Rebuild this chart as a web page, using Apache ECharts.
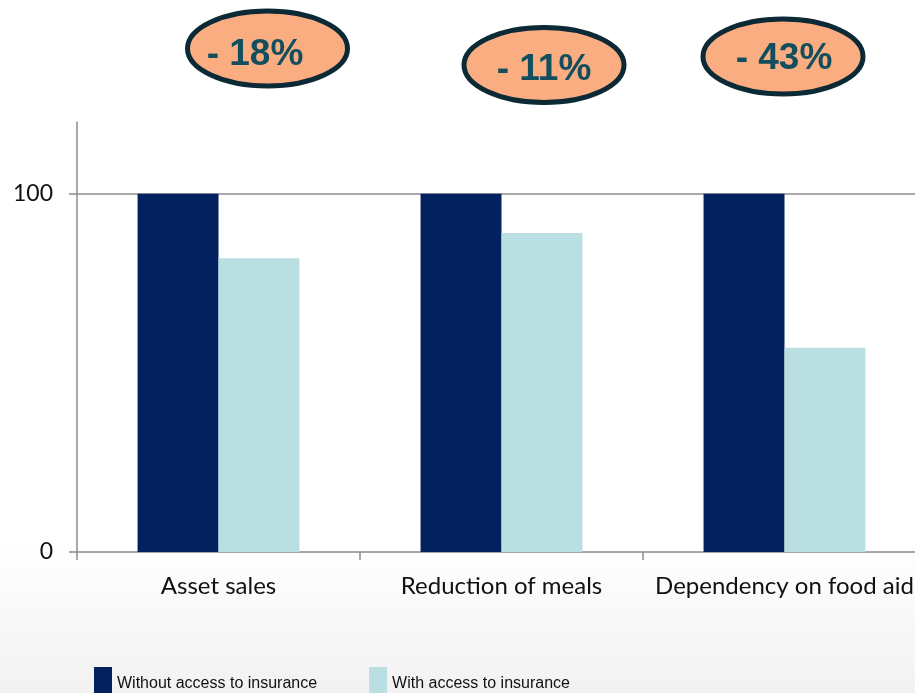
<!DOCTYPE html>
<html><head><meta charset="utf-8">
<script src="https://cdn.jsdelivr.net/npm/echarts@6/dist/echarts.min.js"></script>
<style>html,body{margin:0;padding:0;background:#fff}#c{width:915px;height:693px}</style>
</head><body><div id="c"></div>
<script>
const categories = ['Asset sales', 'Reduction of meals', 'Dependency on food aid'];
const withoutInsurance = [100, 100, 100];
const withInsurance = [82, 89, 57];
const reductionLabels = ['- 18%', '- 11%', '- 43%'];
const yTicks = [0, 100];
const seriesNames = ['Without access to insurance', 'With access to insurance'];

const chart = echarts.init(document.getElementById('c'), null, {renderer: 'canvas'});
const ellipsePos = [[267.5, 48.5], [544, 65], [783, 56.5]];
const textPos = [[255, 55], [544, 70], [784, 59]];
const graphics = [{
  type: 'rect', z: -10, silent: true,
  shape: {x: 0, y: 0, width: 915, height: 693},
  style: {fill: new echarts.graphic.LinearGradient(0, 0, 0, 1, [
    {offset: 0, color: '#ffffff'}, {offset: 0.78, color: '#ffffff'}, {offset: 1, color: '#f2f2f2'}])}
}];
reductionLabels.forEach((t, i) => {
  graphics.push({
    type: 'ellipse', z: 100,
    shape: {cx: ellipsePos[i][0], cy: ellipsePos[i][1], rx: 80, ry: 37.5},
    style: {fill: '#FBAD82', stroke: '#0b2a35', lineWidth: 5}
  });
  graphics.push({
    type: 'text', z: 101,
    x: textPos[i][0], y: textPos[i][1],
    style: {text: t, fill: '#134e5e', font: 'bold 37px "Liberation Sans", Arial, sans-serif',
      align: 'center', verticalAlign: 'middle'}
  });
});

chart.setOption({
  animation: false,
  grid: {left: 77, top: 122, bottom: 141, width: 849, containLabel: false, outerBoundsMode: 'none'},
  legend: {
    left: 89, top: 662, itemWidth: 18, itemHeight: 34, itemGap: 52, padding: 5,
    icon: 'rect',
    textStyle: {fontFamily: '"Liberation Sans", Arial, sans-serif', fontSize: 16, color: '#111'},
    data: seriesNames
  },
  xAxis: {
    type: 'category', data: categories,
    axisLine: {lineStyle: {color: '#8c8c8c', width: 1.5}},
    axisTick: {show: true, length: 8, lineStyle: {color: '#8c8c8c', width: 1.5}},
    axisLabel: {fontFamily: 'Lato, "Open Sans", sans-serif', fontSize: 24, color: '#111', margin: 22, interval: 0}
  },
  yAxis: {
    type: 'value', min: 0, max: 120, interval: 100,
    axisLine: {show: true, lineStyle: {color: '#8c8c8c', width: 1.5}},
    axisTick: {show: true, length: 8, lineStyle: {color: '#8c8c8c', width: 1.5}, customValues: yTicks},
    axisLabel: {fontFamily: 'Lato, "Open Sans", sans-serif', fontSize: 23, color: '#111', margin: 24, customValues: yTicks},
    splitLine: {show: true, showMinLine: false, lineStyle: {color: '#8c8c8c', width: 1.5}}
  },
  series: [
    {name: seriesNames[0], type: 'bar', data: withoutInsurance, itemStyle: {color: '#03215f'},
     barGap: '0%', barCategoryGap: '42.8%'},
    {name: seriesNames[1], type: 'bar', data: withInsurance, itemStyle: {color: '#b9dfe2'},
     barGap: '0%', barCategoryGap: '42.8%'}
  ],
  graphic: graphics
});
</script></body></html>
